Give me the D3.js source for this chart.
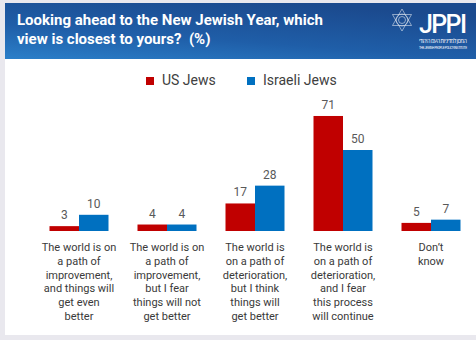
<!DOCTYPE html>
<html>
<head>
<meta charset="utf-8">
<script src="https://cdn.jsdelivr.net/npm/d3@7"></script>
<style>
  html, body { margin: 0; padding: 0; background: #e9e8ee; }
  svg { display: block; }
</style>
</head>
<body>
<svg id="chart"></svg>
<script>
const categories = [
  ["The world is on", "a path of", "improvement,", "and things will", "get even", "better"],
  ["The world is on", "a path of", "improvement,", "but I fear", "things will not", "get better"],
  ["The world is", "on a path of", "deterioration,", "but I think", "things will", "get better"],
  ["The world is", "on a path of", "deterioration,", "and I fear", "this process", "will continue"],
  ["Don\u2019t", "know"]
];
const seriesNames = ["US Jews", "Israeli Jews"];
const usJews = [3, 4, 17, 71, 5];
const israeliJews = [10, 4, 28, 50, 7];
const colors = ["#c00000", "#0070c0"];
const titleLines = ["Looking ahead to the New Jewish Year, which", "view is closest to yours?\u00a0 (%)"];

const width = 476, height = 340;
const svg = d3.select("#chart").attr("width", width).attr("height", height);
const font = "Roboto, 'Open Sans', sans-serif";

// white panel + header
svg.append("rect").attr("x", 5).attr("y", 3).attr("width", width - 5).attr("height", 332).attr("fill", "#fff");

const defs = svg.append("defs");
const grad = defs.append("linearGradient").attr("id", "hdr")
  .attr("x1", "0%").attr("y1", "100%").attr("x2", "60%").attr("y2", "0%");
grad.append("stop").attr("offset", "0%").attr("stop-color", "#2b7fc9");
grad.append("stop").attr("offset", "45%").attr("stop-color", "#1f5ea8");
grad.append("stop").attr("offset", "100%").attr("stop-color", "#1b4a8e");
svg.append("rect").attr("x", 5).attr("y", 3).attr("width", width - 5).attr("height", 56).attr("fill", "url(#hdr)");

svg.append("g").selectAll("text").data(titleLines).join("text")
  .attr("x", 17).attr("y", (d, i) => 25 + i * 18.5)
  .attr("fill", "#fff").attr("font-family", font).attr("font-weight", "bold").attr("font-size", 15)
  .text(d => d);

// logo
const logo = svg.append("g").attr("fill", "none").attr("stroke", "#fff").attr("stroke-width", 0.6).attr("opacity", 0.85);
const lc = [402, 20], lr = 11;
[0, 1].forEach(k => {
  const pts = d3.range(3).map(j => {
    const a = (k * 60 + j * 120 - 90) * Math.PI / 180;
    return [lc[0] + lr * Math.cos(a), lc[1] + lr * Math.sin(a)];
  });
  logo.append("polygon").attr("points", pts.map(p => p.join(",")).join(" "));
});
logo.append("circle").attr("cx", lc[0]).attr("cy", lc[1]).attr("r", 3.5);
logo.append("circle").attr("cx", lc[0]).attr("cy", lc[1]).attr("r", 6);
svg.append("text").attr("x", 419).attr("y", 33).attr("fill", "#fff").attr("font-family", font)
  .attr("font-weight", 500).attr("font-size", 25).attr("textLength", 48).text("JPPI");
svg.append("text").attr("x", 443).attr("y", 43).attr("text-anchor", "middle").attr("fill", "#fff")
  .attr("font-family", font).attr("font-size", 5.5).attr("textLength", 48).text("המכון למדיניות העם היהודי");
svg.append("text").attr("x", 443).attr("y", 49).attr("text-anchor", "middle").attr("fill", "#fff")
  .attr("font-family", font).attr("font-size", 3.2).attr("textLength", 48).text("THE JEWISH PEOPLE POLICY INSTITUTE");

// legend
const legend = svg.append("g").selectAll("g").data(seriesNames).join("g")
  .attr("transform", (d, i) => `translate(${[146, 247][i]},77)`);
legend.append("rect").attr("width", 8).attr("height", 8).attr("fill", (d, i) => colors[i]);
legend.append("text").attr("x", 16).attr("y", 8).attr("font-family", font).attr("font-size", 14)
  .attr("fill", "#404040").text(d => d);

// scales
const x = d3.scaleBand().domain(d3.range(categories.length)).range([35, 475]);
const xs = d3.scaleBand().domain(seriesNames).range([14.5, x.bandwidth() - 14.5]);
const y = d3.scaleLinear().domain([0, 100]).range([231, 69]);

const rows = categories.map((c, i) => ({ i, vals: [usJews[i], israeliJews[i]] }));
const groups = svg.append("g").selectAll("g").data(rows).join("g")
  .attr("transform", d => `translate(${x(d.i)},0)`);

const bars = groups.selectAll("g").data(d => d.vals.map((v, k) => ({ v, k }))).join("g");
bars.append("rect")
  .attr("x", d => xs(seriesNames[d.k]))
  .attr("y", d => y(d.v))
  .attr("width", xs.bandwidth())
  .attr("height", d => y(0) - y(d.v))
  .attr("fill", d => colors[d.k]);
bars.append("text")
  .attr("x", d => xs(seriesNames[d.k]) + xs.bandwidth() / 2)
  .attr("y", d => y(d.v) - 7)
  .attr("text-anchor", "middle").attr("font-family", font).attr("font-size", 12).attr("fill", "#595959")
  .text(d => d.v);

groups.append("text")
  .attr("text-anchor", "middle").attr("font-family", font).attr("font-size", 11).attr("fill", "#3a3a3a")
  .selectAll("tspan").data(d => categories[d.i]).join("tspan")
  .attr("x", x.bandwidth() / 2).attr("y", (d, j) => 251 + j * 13.8)
  .text(d => d);
</script>
</body>
</html>
